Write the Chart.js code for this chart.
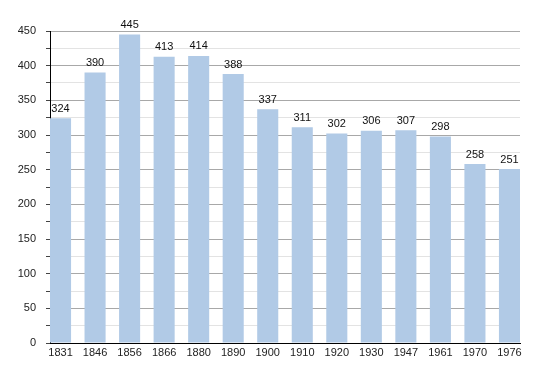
<!DOCTYPE html>
<html>
<head>
<meta charset="utf-8">
<script src="https://cdn.jsdelivr.net/npm/chart.js@4/dist/chart.umd.min.js"></script>
<style>
  html, body { margin: 0; padding: 0; background: #fff; }
  #wrap { width: 550px; height: 373px; position: relative; }
</style>
</head>
<body>
<div id="wrap"><canvas id="popChart"></canvas></div>
<script>
const years  = ["1831", "1846", "1856", "1866", "1880", "1890", "1900", "1910", "1920", "1930", "1947", "1961", "1970", "1976"];
const values = [324, 390, 445, 413, 414, 388, 337, 311, 302, 306, 307, 298, 258, 251];
const yTicks = [0, 50, 100, 150, 200, 250, 300, 350, 400, 450];

const barColor = "#b1cae6";
const barFrac  = 0.61;

Chart.defaults.font.family = "'Liberation Sans', Arial, sans-serif";
Chart.defaults.font.size = 11;
Chart.defaults.color = "#222";

/* value labels above each bar */
const valueLabels = {
  id: "valueLabels",
  afterDatasetsDraw(chart) {
    const ctx = chart.ctx;
    const meta = chart.getDatasetMeta(0);
    ctx.save();
    ctx.font = "11px 'Liberation Sans', Arial, sans-serif";
    ctx.fillStyle = "#111";
    ctx.textAlign = "center";
    ctx.textBaseline = "bottom";
    meta.data.forEach((bar, i) => {
      ctx.fillText(String(values[i]), bar.x, bar.y - 4);
    });
    ctx.restore();
  }
};

new Chart(document.getElementById("popChart"), {
  type: "bar",
  data: {
    datasets: [{
      data: values.map((v, i) => ({ x: i, y: v })),
      backgroundColor: barColor,
      borderWidth: 0,
      categoryPercentage: 1,
      barPercentage: barFrac
    }]
  },
  options: {
    responsive: true,
    maintainAspectRatio: false,
    animation: false,
    layout: { padding: { top: 31, right: 30, left: 0, bottom: 0 } },
    plugins: {
      legend: { display: false },
      tooltip: { enabled: false }
    },
    scales: {
      x: {
        type: "linear",
        offset: false,
        min: -barFrac / 2,
        max: years.length - 1 + barFrac / 2,
        afterBuildTicks: scale => { scale.ticks = years.map((_, i) => ({ value: i })); },
        afterFit: scale => { scale.height = 30; },
        grid: { display: false, drawTicks: false, offset: false },
        border: { display: true, color: "#000", width: 1 },
        ticks: {
          padding: 3,
          maxRotation: 0,
          autoSkip: false,
          color: "#222",
          callback: v => years[v]
        }
      },
      y: {
        min: 0,
        max: 450,
        afterBuildTicks: scale => {
          const t = [];
          for (let v = 0; v <= 450; v += 25) t.push({ value: v });
          scale.ticks = t;
        },
        afterFit: scale => { scale.width = 50; },
        grid: {
          color: c => (c.tick && c.tick.value % 50 === 0) ? "#a8a8a8" : "#e3e3e3",
          tickColor: "#444",
          tickLength: 4,
          lineWidth: 1
        },
        border: { display: true, color: "#000", width: 1 },
        ticks: {
          padding: 10,
          color: "#222",
          callback: v => yTicks.includes(v) ? String(v) : ""
        }
      }
    }
  },
  plugins: [valueLabels]
});
</script>
</body>
</html>
